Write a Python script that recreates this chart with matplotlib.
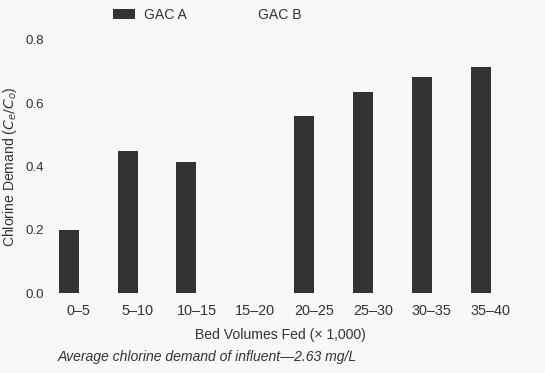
import numpy as np
import matplotlib
matplotlib.use("Agg")
import matplotlib.pyplot as plt
from matplotlib.patches import Patch

# data
categories = ['0–5', '5–10', '10–15', '15–20', '20–25', '25–30', '30–35', '35–40']
gac_a = [0.20, 0.45, 0.415, 0.0, 0.56, 0.635, 0.683, 0.715]
y_ticks = [0.0, 0.2, 0.4, 0.6, 0.8]

plt.rcParams['font.family'] = ['Liberation Sans', 'DejaVu Sans']
text_color = '#333333'
fs = 10.1

fig = plt.figure(figsize=(5.45, 3.73), dpi=100)
fig.patch.set_facecolor('#f8f8f8')
ax = fig.add_axes([50 / 545, 1 - 293 / 373, 460 / 545, 253 / 373])
ax.set_facecolor('none')

x = np.arange(len(categories))
bar_w = 0.34
ax.bar(x - bar_w / 2, gac_a, width=bar_w, color='#333333', label='GAC A')

ax.set_xlim(-0.49, 7.33)
ax.set_ylim(0, 0.8)
ax.set_xticks(x)
ax.set_xticklabels(categories, fontsize=10.4)
ax.set_yticks(y_ticks)
ax.set_yticklabels([f'{v:.1f}' for v in y_ticks], fontsize=9.6)
ax.tick_params(axis='both', length=0, colors=text_color)
ax.tick_params(axis='y', pad=4)
ax.tick_params(axis='x', pad=8)
for s in ax.spines.values():
    s.set_visible(False)

ax.set_ylabel('Chlorine Demand ($C_e/C_o$)', fontsize=fs, color=text_color, labelpad=5)
ax.set_xlabel('Bed Volumes Fed (× 1,000)', fontsize=fs, color=text_color, labelpad=7)

fig.text(58 / 545, 1 - 357 / 373, 'Average chlorine demand of influent—2.63 mg/L',
         fontsize=fs, style='italic', color=text_color, va='center', ha='left')

handles = [Patch(facecolor='#333333', edgecolor='none'),
           Patch(facecolor='none', edgecolor='none')]
fig.legend(handles, ['GAC A', 'GAC B'], loc='center left', ncol=2,
           bbox_to_anchor=(100 / 545, 1 - 15 / 373), frameon=False,
           fontsize=fs, labelcolor=text_color, handlelength=1.6, handleheight=0.65,
           columnspacing=2.8, handletextpad=0.65)

fig.savefig('out.png', dpi=100, facecolor=fig.get_facecolor())
